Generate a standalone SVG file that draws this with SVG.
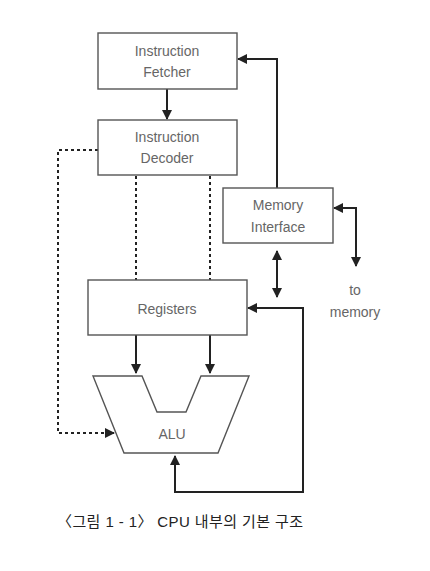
<svg xmlns="http://www.w3.org/2000/svg" width="430" height="571" viewBox="0 0 430 571">
<style>
.box{fill:#fff;stroke:#555;stroke-width:1.4}
.t{font-family:"Liberation Sans","Noto Sans",sans-serif;font-size:14px;fill:#666;text-anchor:middle}
.c{stroke:#222;stroke-width:2;fill:none}
.d{stroke:#222;stroke-width:2;fill:none;stroke-dasharray:3 3}
.cap{font-family:"Liberation Sans","Noto Sans CJK KR",sans-serif;font-size:15px;fill:#222}
</style>
<defs>
<marker id="ah" viewBox="0 0 10 10" refX="9" refY="5" markerWidth="5" markerHeight="5" orient="auto-start-reverse" markerUnits="strokeWidth">
<path d="M0,0 L10,5 L0,10 z" fill="#222"/>
</marker>
</defs>
<rect width="430" height="571" fill="#fff"/>
<g id="connectors">
<line class="c" x1="167" y1="89" x2="167" y2="119" marker-end="url(#ah)"/>
<polyline class="c" points="277,188 277,59 238,59" marker-end="url(#ah)"/>
<polyline class="c" points="334,208 356,208 356,266" marker-start="url(#ah)" marker-end="url(#ah)"/>
<line class="c" x1="277" y1="251" x2="277" y2="297" marker-start="url(#ah)" marker-end="url(#ah)"/>
<polyline class="c" points="175,456 175,492 303,492 303,308 248,308" marker-start="url(#ah)" marker-end="url(#ah)"/>
<line class="c" x1="136" y1="335" x2="136" y2="373" marker-end="url(#ah)"/>
<line class="c" x1="210" y1="335" x2="210" y2="373" marker-end="url(#ah)"/>
<line class="d" x1="136" y1="176" x2="136" y2="280"/>
<line class="d" x1="210" y1="176" x2="210" y2="280"/>
<polyline class="d" points="98,150 58,150 58,433 114,433" marker-end="url(#ah)"/>
</g>
<g id="fetcher">
<rect class="box" x="98" y="33" width="139" height="56"/>
<text class="t" x="167" y="56">Instruction</text>
<text class="t" x="167" y="77">Fetcher</text>
</g>
<g id="decoder">
<rect class="box" x="98" y="120" width="139" height="55"/>
<text class="t" x="167" y="142">Instruction</text>
<text class="t" x="167" y="163">Decoder</text>
</g>
<g id="memory-interface">
<rect class="box" x="223" y="188" width="110" height="55"/>
<text class="t" x="278" y="210">Memory</text>
<text class="t" x="278" y="232">Interface</text>
</g>
<g id="to-memory">
<text class="t" x="355" y="295">to</text>
<text class="t" x="355" y="317">memory</text>
</g>
<g id="registers">
<rect class="box" x="88" y="280" width="159" height="55"/>
<text class="t" x="167" y="314">Registers</text>
</g>
<g id="alu">
<polygon class="box" points="93,376 142,376 157,412 186,412 201,376 249,376 218,453 124,453"/>
<text class="t" x="172" y="439">ALU</text>
</g>
<g id="caption">
<text class="cap" x="57" y="527" textLength="246" lengthAdjust="spacing">〈그림 1 - 1〉 CPU  내부의 기본 구조</text>
</g>
</svg>
